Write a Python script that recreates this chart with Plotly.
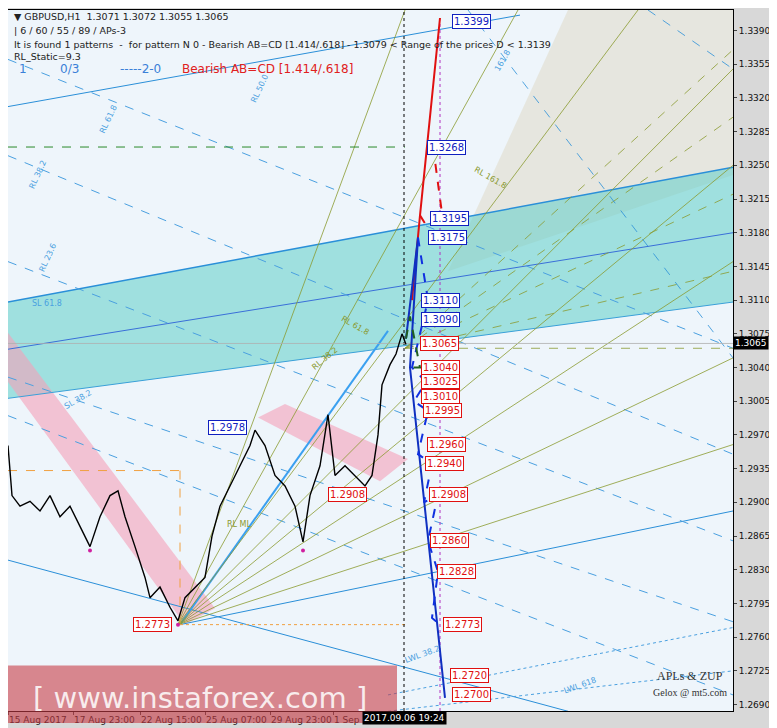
import plotly.graph_objects as go

# ---------------- data ----------------
bar_x = [0, 4, 12, 22, 32, 42, 52, 62, 72, 82, 92, 102, 110, 117, 127, 137, 142, 152, 162, 170, 177, 187, 197,
         204, 212, 222, 232, 242, 247, 257, 267, 277, 287, 295, 302, 312, 320, 327, 337, 347, 357, 364, 370, 374,
         382, 388, 394, 398]
close = [1.2959, 1.2907, 1.2896, 1.2901, 1.2891, 1.2907, 1.2885, 1.2896, 1.2875, 1.2854, 1.2885, 1.2907, 1.2912,
         1.2885, 1.2854, 1.2822, 1.2801, 1.2812, 1.2791, 1.2777, 1.2801, 1.2812, 1.2822, 1.2865, 1.2896, 1.2917,
         1.2938, 1.2959, 1.2975, 1.2959, 1.2928, 1.2917, 1.2896, 1.2859, 1.2907, 1.2938, 1.2991, 1.2928, 1.2938,
         1.2928, 1.2917, 1.2928, 1.2970, 1.3022, 1.3043, 1.3054, 1.3075, 1.3064]
pivot_x = [82, 170, 295, 357]
pivot_y = [1.2850, 1.2773, 1.2850, 1.2905]

tick_x = [0, 65, 132, 197, 262, 325]
tick_text = ["15 Aug 2017", "17 Aug 23:00", "22 Aug 15:00", "25 Aug 07:00", "29 Aug 23:00", "1 Sep 15"]
ytick_vals = [1.2690, 1.2725, 1.2760, 1.2795, 1.2830, 1.2865, 1.2900, 1.2935, 1.2970, 1.3005, 1.3040, 1.3075,
              1.3110, 1.3145, 1.3180, 1.3215, 1.3250, 1.3285, 1.3320, 1.3355, 1.3390]

red_solid_x = [404, 412, 432]
red_solid_y = [1.3110, 1.3198, 1.3403]
red_dash_x = [[412, 424], [425, 434]]
red_dash_y = [[1.3198, 1.3178], [1.3270, 1.3200]]
blue_solid_x = [398, 410, 402, 437]
blue_solid_y = [1.3070, 1.3175, 1.3040, 1.2697]
blue_dash_x = [410, 420, 404, 418, 406, 420, 410, 424, 416, 430, 420, 430, 424, 432]
blue_dash_y = [1.3175, 1.3110, 1.3040, 1.3025, 1.3005, 1.2995, 1.2950, 1.2940, 1.2900, 1.2908, 1.2860, 1.2828, 1.2780, 1.2773]
green_dash_x = [398, 402, 412, 402]
green_dash_y = [1.3070, 1.3093, 1.3040, 1.3040]

label_price = [1.3399, 1.3268, 1.3195, 1.3175, 1.3110, 1.3090, 1.3065, 1.3040, 1.3025, 1.3010, 1.2995, 1.2960,
               1.2940, 1.2908, 1.2860, 1.2828, 1.2773, 1.2720, 1.2700, 1.2978, 1.2908, 1.2773]
label_x = [444, 419, 422, 420, 413, 413, 412, 413, 413, 413, 415, 419, 417, 421, 422, 429, 435, 442, 444, 200, 320, 125]
label_col = ["b", "b", "b", "b", "b", "b", "r", "r", "r", "r", "r", "r", "r", "r", "r", "r", "r", "r", "r", "b", "r", "r"]

# ---------------- figure ----------------
X0, X1, YMIN, YMAX = 0, 725, 1.26833, 1.34113
fig = go.Figure()
shapes = []

def poly(pts, fill, line="rgba(0,0,0,0)", width=0, layer="below"):
    path = "M " + " L ".join(f"{x},{y}" for x, y in pts) + " Z"
    shapes.append(dict(type="path", path=path, fillcolor=fill, line=dict(color=line, width=width), layer=layer))

def seg(x0, y0, x1, y1, color, dash="solid", width=1):
    shapes.append(dict(type="line", x0=x0, y0=y0, x1=x1, y1=y1, line=dict(color=color, width=width, dash=dash), layer="below"))

poly([(0, YMAX), (X1, YMAX), (X1, YMIN), (0, YMIN)], "#eef5fb")
poly([(440, 1.3140), (560, YMAX), (X1, YMAX), (X1, 1.3240)], "rgba(228,228,220,0.9)")
poly([(0, 1.3108), (X1, 1.3248), (X1, 1.3108), (0, 1.3008)], "rgba(95,205,200,0.55)")
poly([(0, 1.3076), (0, 1.3025), (177, 1.2773), (207, 1.2790)], "rgba(245,160,185,0.6)")
poly([(250, 1.2988), (277, 1.3002), (400, 1.2945), (372, 1.2922)], "rgba(245,160,185,0.6)")

seg(0, 1.3108, X1, 1.3248, "#2a8fd8", width=1.5)
seg(0, 1.3059, X1, 1.3180, "#3a6fd8")
seg(0, 1.3008, X1, 1.3108, "#3aa0d8")
seg(0, 1.3311, 512, 1.3406, "#2a8fd8")
seg(172, 1.2773, X1, 1.2891, "#2a8fd8")
seg(0, 1.2840, 560, 1.2683, "#2a8fd8")
seg(172, 1.2773, 380, 1.3078, "#3aa0f0", width=2)
for a, b in [(1.3030, 1.2776), (1.2990, 1.2700), (1.3150, 1.2860), (1.3260, 1.2950), (1.3360, 1.3060)]:
    seg(0, a, X1, b, "#4aa0e0", dash="dash")
for a, b in [(1.2700, 1.2770), (1.2683, 1.2725)]:
    seg(380, a, X1, b, "#4aa0e0", dash="dot")
for xe, ye in [(397, YMAX), (510, YMAX), (630, YMAX), (X1, 1.3350), (X1, 1.3250), (X1, 1.3150), (X1, 1.3050), (X1, 1.2960)]:
    seg(170, 1.2773, xe, ye, "#8a9a30", width=0.8)
for xe, ye in [(X1, 1.3370), (X1, 1.3300), (X1, 1.3220), (X1, 1.3140), (X1, 1.3060)]:
    seg(397, 1.3060, xe, ye, "#8a9a30", dash="dash", width=0.8)
seg(460, YMAX, X1, 1.3050, "#2a8fd8", dash="dash", width=0.8)
seg(640, YMAX, X1, 1.3350, "#2a8fd8", dash="dash", width=0.8)
seg(0, 1.2933, 172, 1.2933, "#f0a040", dash="dash")
seg(172, 1.2933, 172, 1.2773, "#f0a040", dash="dash")
seg(172, 1.2773, 397, 1.2773, "#f0a040", dash="dot")
seg(0, 1.3269, 397, 1.3269, "#2a8a2a", dash="dash")
seg(396, YMIN, 396, YMAX, "#000000", dash="dot")
seg(432, YMIN, 432, 1.3400, "#b030c0", dash="dot")
seg(0, 1.3065, X1, 1.3065, "#b0b0b0", width=0.8)

fig.add_trace(go.Scatter(x=bar_x, y=close, mode="lines", line=dict(color="black", width=1.4), hoverinfo="skip"))
fig.add_trace(go.Scatter(x=pivot_x, y=pivot_y, mode="markers", marker=dict(color="#d020a0", size=4)))
fig.add_trace(go.Scatter(x=red_solid_x, y=red_solid_y, mode="lines", line=dict(color="#e01010", width=2)))
for xs, ys in zip(red_dash_x, red_dash_y):
    fig.add_trace(go.Scatter(x=xs, y=ys, mode="lines", line=dict(color="#e01010", width=2, dash="dash")))
fig.add_trace(go.Scatter(x=blue_solid_x, y=blue_solid_y, mode="lines", line=dict(color="#1030c0", width=2)))
fig.add_trace(go.Scatter(x=blue_dash_x, y=blue_dash_y, mode="lines", line=dict(color="#1030e0", width=2, dash="dash")))
fig.add_trace(go.Scatter(x=green_dash_x, y=green_dash_y, mode="lines", line=dict(color="#206020", width=2, dash="dash")))

ann = []
for p, x, c in zip(label_price, label_x, label_col):
    col = "#1020c0" if c == "b" else "#e01010"
    ann.append(dict(x=x, y=p, text=f"{p:.4f}", xanchor="left", showarrow=False, bgcolor="white",
                    bordercolor=col, borderwidth=1, borderpad=1, font=dict(color=col, size=10, family="DejaVu Sans")))

def ptext(px, py, text, size=10, color="black", anchor="left", family="DejaVu Sans"):
    ann.append(dict(xref="paper", yref="paper", x=(px - 8) / 725, y=1 - (py - 10) / 693, text=text,
                    showarrow=False, xanchor=anchor, yanchor="middle", font=dict(size=size, color=color, family=family)))

ptext(12, 16, "▼ GBPUSD,H1  1.3071 1.3072 1.3055 1.3065", 9.5, "#222")
ptext(12, 30, "| 6 / 60 / 55 / 89 / APs-3", 9.5, "#222")
ptext(12, 44, "It is found 1 patterns  -  for pattern N 0 - Bearish AB=CD [1.414/.618] - 1.3079 < Range of the prices D < 1.3139", 9.5, "#222")
ptext(12, 56, "RL_Static=9.3", 9.5, "#222")
ptext(17, 68, "1", 12, "#3a80d8")
ptext(58, 68, "0/3", 12, "#3a80d8")
ptext(118, 68, "-----2-0", 12, "#3a80d8")
ptext(180, 68, "Bearish AB=CD [1.414/.618]", 12, "#e02020")
ptext(690, 668, "APLs & ZUP", 12, "#333", "center", "Liberation Serif")
ptext(690, 685, "Gelox @ mt5.com", 10, "#333", "center", "Liberation Serif")
for px, py, t, ang, col in [(95, 100, "RL 61.8", -65, "#4aa0e0"), (25, 155, "RL 38.2", -65, "#4aa0e0"),
                            (35, 255, "RL 23.6", -65, "#4aa0e0"), (30, 300, "SL 61.8", 0, "#4aa0e0"),
                            (60, 395, "SL 38.2", -30, "#4aa0e0"), (260, 70, "RL 50.0", -65, "#4aa0e0"),
                            (515, 45, "161.8", -60, "#4aa0e0"), (490, 160, "RL 161.8", 30, "#8a9a30"),
                            (355, 322, "RL 61.8", 30, "#8a9a30"), (325, 355, "RL 38.2", -40, "#8a9a30"),
                            (225, 525, "RL ML", 0, "#8a9a30"), (422, 660, "LWL 38.2", -20, "#4aa0e0"),
                            (600, 690, "LWL 618", -20, "#4aa0e0")]:
    ann.append(dict(xref="paper", yref="paper", x=(px - 8) / 725, y=1 - (py - 10) / 693, text=t, showarrow=False,
                    textangle=ang, font=dict(size=8, color=col, family="DejaVu Sans")))
shapes.append(dict(type="rect", xref="paper", yref="paper", x0=0, x1=(397 - 8) / 725, y0=-0.017, y1=1 - (658 - 10) / 693,
                   fillcolor="rgba(200,60,70,0.6)", line=dict(width=0), layer="above"))
ptext(200, 690, "[ www.instaforex.com ]", 29, "rgba(255,255,255,0.85)", "center")
ann.append(dict(x=1, xref="paper", y=1.3065, text="1.3065", xanchor="left", showarrow=False, bgcolor="black",
                font=dict(color="white", size=9, family="DejaVu Sans")))
ann.append(dict(x=396, y=0, yref="paper", yanchor="top", text="2017.09.06 19:24", showarrow=False, bgcolor="black",
                font=dict(color="white", size=9, family="DejaVu Sans")))

fig.update_layout(
    width=769, height=720, margin=dict(l=0, r=44, t=2, b=17, autoexpand=False), showlegend=False,
    paper_bgcolor="#d8d8d8", plot_bgcolor="white", shapes=shapes, annotations=ann,
    xaxis=dict(range=[X0, X1], tickvals=tick_x, ticktext=tick_text, showgrid=False, zeroline=False,
               tickangle=0, automargin=False, ticklabelposition="outside right",
               tickfont=dict(size=9, family="DejaVu Sans", color="#111"),
               ticks="outside", ticklen=3, showline=True, linecolor="black", mirror=True),
    yaxis=dict(range=[YMIN, YMAX], side="right", tickvals=ytick_vals, tickformat=".4f", showgrid=False,
               automargin=False, zeroline=False, tickfont=dict(size=9, family="DejaVu Sans", color="#111"),
               ticks="outside", ticklen=3, showline=True, linecolor="black", mirror=True),
)
fig.write_html("out.html")
